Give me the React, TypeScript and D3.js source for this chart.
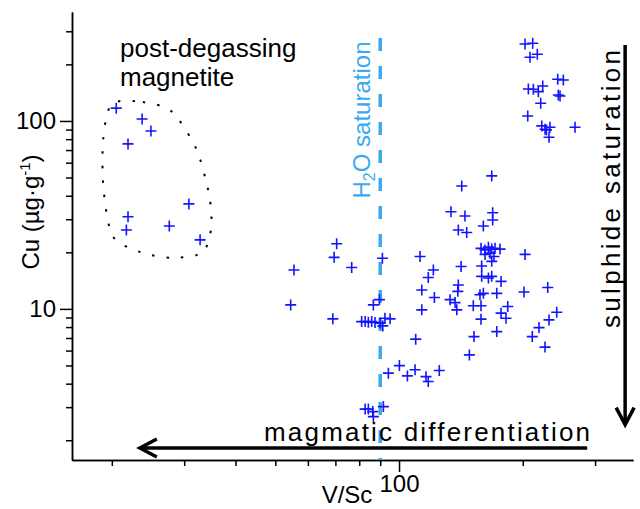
import React, { useEffect, useRef } from 'react'
import * as d3 from 'd3'

const WIDTH = 640
const HEIGHT = 509
const FONT = '"Liberation Sans", Arial, sans-serif'
const BLUE = '#3aa9f0'
const MARK = '#1414ff'

const xDomain = [16, 371]
const yDomain = [1.57, 380]

const xMajorTicks = [100]
const xMinorTicks = [20, 30, 40, 50, 60, 70, 80, 90, 200, 300]
const yMajorTicks = [10, 100]
const yMinorTicks = [2, 3, 4, 5, 6, 7, 8, 9, 20, 30, 40, 50, 60, 70, 80, 90, 200, 300]

// [V/Sc, Cu]
const magnetitePoints = [
  [20.5, 117], [23.7, 102.5], [24.9, 88.5], [21.9, 75.5], [30.8, 36.2],
  [21.9, 30.9], [21.7, 26.3], [27.6, 27.6], [32.8, 23.3]
]

const nearH2OPoints = [
  [70.5, 22.2], [69.5, 18.8], [55.5, 16.1], [76.7, 16.6], [91.1, 18.6],
  [54.5, 10.5], [69.0, 8.85], [89.6, 11.2], [86.6, 10.5], [81.1, 8.56],
  [82.7, 8.56], [84.2, 8.5], [85.8, 8.56], [87.4, 8.46], [89.9, 8.4],
  [92.4, 8.92], [95.1, 8.85], [91.3, 8.12], [94.2, 4.55], [82.7, 2.93],
  [84.2, 2.93], [86.3, 2.84], [91.6, 3.02], [86.6, 2.67],
  [112.5, 19.0], [121.2, 16.1], [117.8, 14.7], [113.6, 12.6], [121.9, 11.5],
  [113.6, 9.88], [109.8, 6.9], [100.2, 4.99], [104.8, 4.4], [109.4, 4.74],
  [116.3, 4.36], [117.8, 4.11], [125.3, 4.7]
]

const mainPoints = [
  [168.1, 51.0], [142.1, 45.1], [133.8, 32.9], [144.7, 31.2], [169.0, 32.5],
  [169.0, 29.7], [160.4, 27.6], [139.4, 26.3], [146.1, 25.5],
  [158.3, 21.0], [161.9, 20.6], [165.0, 21.3], [168.1, 20.8], [171.2, 21.0],
  [176.1, 20.8], [161.9, 19.5], [166.5, 19.8], [170.2, 19.0], [168.1, 17.9],
  [202.6, 19.5], [141.6, 16.8], [158.9, 16.9], [158.9, 14.9], [165.0, 14.6],
  [168.1, 14.9], [177.1, 14.0], [139.4, 13.4], [139.0, 12.4], [133.1, 11.2],
  [136.9, 10.8], [138.2, 9.88], [157.4, 11.9], [160.4, 12.1], [172.9, 12.1],
  [201.4, 12.3], [230.1, 13.0], [151.6, 10.4], [158.3, 10.4], [183.9, 10.3],
  [177.1, 9.49], [182.1, 8.92], [158.3, 8.82], [242.0, 9.6], [231.7, 8.74],
  [219.1, 7.95], [211.0, 7.12], [172.9, 7.57], [152.2, 7.12], [226.6, 6.26],
  [148.3, 5.69]
]

const highCuPoints = [
  [202.6, 256.8], [211.5, 259.0], [208.3, 218.2], [217.0, 226.3], [243.3, 166.7],
  [251.1, 165.2], [206.4, 148.0], [212.3, 147.5], [218.3, 143.2], [223.7, 153.5],
  [221.2, 124.2], [244.1, 137.5], [246.5, 135.8], [205.7, 106.3], [222.5, 94.1],
  [226.6, 90.3], [233.0, 92.6], [228.4, 89.6], [231.7, 81.9], [268.1, 92.6]
]

// dotted outline round the magnetite analyses
const magnetiteOutline = [
  [20.0, 123], [23.8, 126], [28.0, 112], [32.1, 71], [34.5, 40.4], [34.9, 27.0],
  [33.2, 19.9], [28.0, 18.7], [23.4, 20.1], [20.1, 24.4], [19.1, 43.0], [19.05, 79.3]
]

const h2oSaturation = { vsc: 90, top: 276 }
const differentiationArrow = { from: 287, to: 23.4, cu: 1.82 }
const sulphideArrow = { vsc: 355, from: 254, to: 2.42 }

function App () {
  const ref = useRef(null)

  useEffect(() => {
    const svg = d3.select(ref.current)
    svg.selectAll('*').remove()

    const x = d3.scaleLog().domain(xDomain).range([72, 633])
    const y = d3.scaleLog().domain(yDomain).range([460, 12])

    const styleAxis = g => {
      g.attr('font-size', 24).attr('font-family', FONT)
      g.selectAll('path, line').attr('stroke', '#000').attr('stroke-width', 1.5)
      g.selectAll('text').attr('fill', '#000')
    }

    svg.append('g').attr('transform', 'translate(0,460)')
      .call(d3.axisBottom(x).tickValues(xMinorTicks).tickSize(6).tickSizeOuter(0).tickFormat(() => ''))
      .call(styleAxis)
    svg.append('g').attr('transform', 'translate(0,460)')
      .call(d3.axisBottom(x).tickValues(xMajorTicks).tickSize(12).tickSizeOuter(0).tickPadding(3).tickFormat(d3.format('d')))
      .call(styleAxis)
    svg.append('g').attr('transform', 'translate(72,0)')
      .call(d3.axisLeft(y).tickValues(yMinorTicks).tickSize(6).tickSizeOuter(0).tickFormat(() => ''))
      .call(styleAxis)
    svg.append('g').attr('transform', 'translate(72,0)')
      .call(d3.axisLeft(y).tickValues(yMajorTicks).tickSize(12).tickSizeOuter(0).tickPadding(4).tickFormat(d3.format('d')))
      .call(styleAxis)

    // H2O saturation line
    svg.append('line')
      .attr('x1', x(h2oSaturation.vsc)).attr('x2', x(h2oSaturation.vsc))
      .attr('y1', y(h2oSaturation.top)).attr('y2', y(yDomain[0]))
      .attr('stroke', BLUE).attr('stroke-width', 3.5)
      .attr('stroke-dasharray', '13,15')

    const h2o = svg.append('text')
      .attr('transform', `translate(${x(h2oSaturation.vsc) - 10},120) rotate(-90)`)
      .attr('text-anchor', 'middle')
      .attr('fill', BLUE).attr('font-size', 24).attr('font-family', FONT)
    h2o.append('tspan').text('H')
    h2o.append('tspan').attr('font-size', 16).attr('dy', 5).text('2')
    h2o.append('tspan').attr('dy', -5).text('O saturation')

    // magnetite outline
    const line = d3.line()
      .x(d => x(d[0]))
      .y(d => y(d[1]))
      .curve(d3.curveCardinalClosed.tension(0.2))
    svg.append('path')
      .attr('d', line(magnetiteOutline))
      .attr('fill', 'none').attr('stroke', '#000')
      .attr('stroke-width', 2).attr('stroke-dasharray', '2.5,12')

    // crosses
    const allPoints = magnetitePoints.concat(nearH2OPoints, mainPoints, highCuPoints)
    svg.append('g').selectAll('path')
      .data(allPoints)
      .enter().append('path')
      .attr('d', d => {
        const cx = x(d[0])
        const cy = y(d[1])
        return `M${cx - 5.5},${cy}h11M${cx},${cy - 5.5}v11`
      })
      .attr('stroke', MARK).attr('stroke-width', 1.6).attr('fill', 'none')

    // arrows
    const ay = y(differentiationArrow.cu)
    const ax = x(differentiationArrow.to)
    svg.append('line')
      .attr('x1', x(differentiationArrow.from)).attr('x2', ax + 2)
      .attr('y1', ay).attr('y2', ay)
      .attr('stroke', '#000').attr('stroke-width', 3.5)
    svg.append('path')
      .attr('d', `M${ax + 17},${ay - 9}L${ax},${ay}L${ax + 17},${ay + 9}`)
      .attr('fill', 'none').attr('stroke', '#000').attr('stroke-width', 3.5)

    const sx = x(sulphideArrow.vsc)
    const sy = y(sulphideArrow.to)
    svg.append('line')
      .attr('x1', sx).attr('x2', sx)
      .attr('y1', y(sulphideArrow.from)).attr('y2', sy - 2)
      .attr('stroke', '#000').attr('stroke-width', 3.5)
    svg.append('path')
      .attr('d', `M${sx - 9},${sy - 17}L${sx},${sy}L${sx + 9},${sy - 17}`)
      .attr('fill', 'none').attr('stroke', '#000').attr('stroke-width', 3.5)

    // annotations
    const label = (txt, tx, ty, size = 26) => svg.append('text')
      .attr('x', tx).attr('y', ty)
      .attr('font-size', size).attr('font-family', FONT).attr('fill', '#000')
      .text(txt)

    label('post-degassing', 120, 57)
    label('magnetite', 120, 86)
    label('magmatic differentiation', 264, 441)
      .attr('textLength', 326).attr('lengthAdjust', 'spacing')
    label('sulphide saturation', 0, 0)
      .attr('transform', 'translate(620,189) rotate(-90)')
      .attr('text-anchor', 'middle')
      .attr('textLength', 278).attr('lengthAdjust', 'spacing')

    // axis titles
    const cu = svg.append('text')
      .attr('transform', 'translate(39,212) rotate(-90)')
      .attr('text-anchor', 'middle')
      .attr('font-size', 24).attr('font-family', FONT)
    cu.append('tspan').text('Cu (µg·g')
    cu.append('tspan').attr('font-size', 15).attr('dy', -9).text('-1')
    cu.append('tspan').attr('dy', 9).text(')')

    label('V/Sc', 347, 503, 24).attr('text-anchor', 'middle')
  }, [])

  return (
    <svg
      ref={ref}
      width={WIDTH}
      height={HEIGHT}
      viewBox={`0 0 ${WIDTH} ${HEIGHT}`}
      style={{ position: 'absolute', left: 0, top: 0, background: '#fff' }}
    />
  )
}

export default App
